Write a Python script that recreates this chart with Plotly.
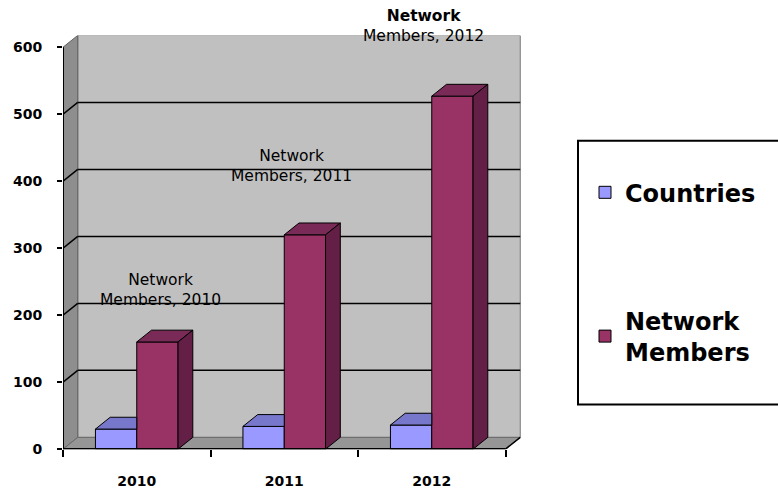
import plotly.graph_objects as go

# ---------------- data ----------------
years = ["2010", "2011", "2012"]
countries = [30, 34, 36]
members = [160, 320, 527]
y_ticks = [0, 100, 200, 300, 400, 500, 600]
series_names = ["Countries", "Network<br>Members"]
label_texts = ["Network<br>Members, 2010", "Network<br>Members, 2011", "<b>Network</b><br>Members, 2012"]

# ---------------- geometry / style ----------------
W, H = 778, 498
PX_L, PX_R = 63, 522          # plot area in pixels
PX_B, PX_T = 456.5, 36
CAT_PX = 147.5                # pixels per category
PX_PER_UNIT = (PX_B - PX_T) / (600 + 12 / 0.681)
XR = [-0.5, -0.5 + (PX_R - PX_L) / CAT_PX]
DX = 0.1                      # depth offset in x units
DY = 12 / PX_PER_UNIT         # depth offset in y units
YR = [0, 600 + DY]
BW = 0.28
OFF_C, OFF_M = -0.28, 0.0

C_FRONT, C_TOP = "#9999FF", "#7777CC"
M_FRONT, M_TOP, M_SIDE = "#993366", "#7A2A57", "#631F45"
WALL_BACK, WALL_SIDE, FLOOR = "#C0C0C0", "#8E8E8E", "#969696"

xs = list(range(len(years)))
x_left, x_right = -0.5, len(years) - 0.5

fig = go.Figure()

fig.add_trace(go.Bar(x=xs, y=countries, name=series_names[0], width=BW, offset=OFF_C,
                     marker=dict(color=C_FRONT, line=dict(color="black", width=1)),
                     legendgroup="c", hoverinfo="skip"))
fig.add_trace(go.Bar(x=xs, y=members, name=series_names[1], width=BW, offset=OFF_M,
                     marker=dict(color=M_FRONT, line=dict(color="black", width=1)),
                     legendgroup="m", hoverinfo="skip"))

def poly_trace(px, py, color):
    return go.Scatter(x=px, y=py, mode="lines", fill="toself", fillcolor=color,
                      line=dict(color="black", width=1), showlegend=False, hoverinfo="skip")

# countries top face (visible part, left of the members bar)
px, py = [], []
for i, v in zip(xs, countries):
    a = i + OFF_C
    b = i + OFF_M
    px += [a, b, b, a + DX, a, None]
    py += [v, v, v + DY, v + DY, v, None]
fig.add_trace(poly_trace(px, py, C_TOP))

# members top face
px, py = [], []
for i, v in zip(xs, members):
    a = i + OFF_M
    b = a + BW
    px += [a, b, b + DX, a + DX, a, None]
    py += [v, v, v + DY, v + DY, v, None]
fig.add_trace(poly_trace(px, py, M_TOP))

# members side face
px, py = [], []
for i, v in zip(xs, members):
    b = i + OFF_M + BW
    px += [b, b + DX, b + DX, b, b, None]
    py += [0, DY, v + DY, v, 0, None]
fig.add_trace(poly_trace(px, py, M_SIDE))

shapes = []
# back wall
shapes.append(dict(type="rect", xref="x", yref="y", x0=x_left + DX, x1=x_right + DX,
                   y0=DY, y1=y_ticks[-1] + DY, fillcolor=WALL_BACK,
                   line=dict(color="#7A7A7A", width=1), layer="below"))
# left wall
shapes.append(dict(type="path", xref="x", yref="y",
                   path=f"M{x_left},{0} L{x_left},{y_ticks[-1]} L{x_left+DX},{y_ticks[-1]+DY} L{x_left+DX},{DY} Z",
                   fillcolor=WALL_SIDE, line=dict(color="#606060", width=1), layer="below"))
# floor
shapes.append(dict(type="path", xref="x", yref="y",
                   path=f"M{x_left},{0} L{x_right},{0} L{x_right+DX},{DY} L{x_left+DX},{DY} Z",
                   fillcolor=FLOOR, line=dict(color="#6A6A6A", width=1), layer="below"))
# gridlines on back and left walls
for v in y_ticks[1:-1]:
    shapes.append(dict(type="line", xref="x", yref="y", x0=x_left + DX, x1=x_right + DX,
                       y0=v + DY, y1=v + DY, line=dict(color="black", width=1.5), layer="below"))
    shapes.append(dict(type="line", xref="x", yref="y", x0=x_left, x1=x_left + DX,
                       y0=v, y1=v + DY, line=dict(color="black", width=1.5), layer="below"))
# axis lines
shapes.append(dict(type="line", xref="x", yref="y", x0=x_left, x1=x_left, y0=0, y1=y_ticks[-1],
                   line=dict(color="black", width=2), layer="above"))
shapes.append(dict(type="line", xref="x", yref="y", x0=x_left, x1=x_right, y0=0, y1=0,
                   line=dict(color="black", width=2.5), layer="above"))
shapes.append(dict(type="line", xref="x", yref="y", x0=x_right, x1=x_right + DX, y0=0, y1=DY,
                   line=dict(color="black", width=1.5), layer="above"))
# legend box
shapes.append(dict(type="rect", xref="paper", yref="paper", x0=578 / W, x1=1.02,
                   y0=1 - 411 / H, y1=1 - 143 / H, line=dict(color="black", width=2),
                   fillcolor="rgba(0,0,0,0)"))

# data labels (pixel offsets from bar top)
LABEL_XS = [24, 7, -8]
LABEL_YS = [52, 69, 70]
annotations = []
for i, v, t in zip(xs, members, label_texts):
    annotations.append(dict(x=i, y=v, xref="x", yref="y", text=t,
                            showarrow=False, xanchor="center", yanchor="middle",
                            xshift=LABEL_XS[i], yshift=LABEL_YS[i],
                            font=dict(family="DejaVu Sans", size=15.5, color="black")))

fig.update_layout(
    width=W, height=H, autosize=False,
    margin=dict(l=0, r=0, t=0, b=0),
    paper_bgcolor="white", plot_bgcolor="rgba(0,0,0,0)",
    barmode="overlay",
    shapes=shapes, annotations=annotations,
    xaxis=dict(domain=[PX_L / W, PX_R / W], range=XR, showgrid=False, zeroline=False,
               showline=False, tickmode="array", tickvals=xs, ticktext=years,
               ticks="", ticklen=0, ticklabelstandoff=22,
               minor=dict(tickvals=[x_left + k for k in range(len(years) + 1)], ticks="outside",
                          ticklen=7, tickwidth=2, tickcolor="black", showgrid=False),
               tickfont=dict(family="DejaVu Sans", size=14, color="black", weight="bold"),
               fixedrange=True),
    yaxis=dict(domain=[1 - PX_B / H, 1 - PX_T / H], range=YR, showgrid=False, zeroline=False,
               showline=False, tickmode="array", tickvals=y_ticks,
               ticks="outside", ticklen=5, tickwidth=2, tickcolor="black", ticklabelstandoff=12,
               tickfont=dict(family="DejaVu Sans", size=14, color="black", weight="bold"),
               fixedrange=True),
    legend=dict(x=585 / W, y=1 - 173 / H, xanchor="left", yanchor="top",
                traceorder="grouped", tracegroupgap=94, bgcolor="rgba(0,0,0,0)",
                borderwidth=0,
                font=dict(family="DejaVu Sans", size=24, color="black", weight="bold")),
    showlegend=True,
)

fig.write_html("out.html")
